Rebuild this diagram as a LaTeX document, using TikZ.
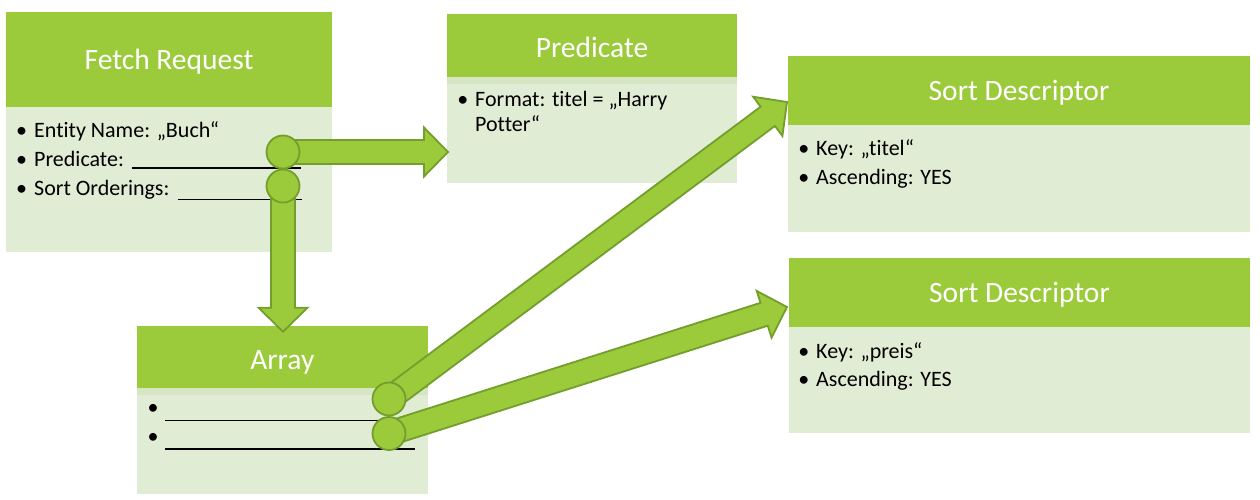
\documentclass[tikz,border=0pt]{standalone}
\usepackage{fontspec}
\setmainfont{Carlito}[Ligatures=NoCommon]
\usetikzlibrary{positioning,calc}

\definecolor{headgreen}{RGB}{155,203,59}
\definecolor{bodygreen}{RGB}{225,236,213}
\definecolor{bandgreen}{RGB}{214,230,196}
\definecolor{edgegreen}{RGB}{115,158,45}

\newcommand\bodyfont{\fontsize{22}{26}\selectfont}
\newcommand\headfont{\fontsize{29.5}{34}\selectfont}
\newcommand\blt{\llap{•\hspace{7pt}}}

% block arrow from #1 to #2
\newcommand\blockarrow[2]{%
  \path ($(#2)!24pt!(#1)$) coordinate (hb);
  \draw[barrow] ($(#1)!12pt!90:(#2)$) -- ($(hb)!12pt!90:(#2)$) -- ($(hb)!24.5pt!90:(#2)$)
    -- (#2) -- ($(hb)!24.5pt!-90:(#2)$) -- ($(hb)!12pt!-90:(#2)$) -- ($(#1)!12pt!-90:(#2)$) -- cycle;}

\tikzset{
  head/.style={fill=headgreen, text=white, font=\headfont, anchor=north west,
    inner sep=0pt, outer sep=0pt, text height=19pt, text depth=0pt},
  body/.style={fill=bodygreen, inner sep=0pt, outer sep=0pt},
  band/.style={path picture={\fill[bandgreen] (path picture bounding box.north west)
    rectangle ([yshift=-7pt]path picture bounding box.north east);}},
  txt/.style={anchor=base west, inner sep=0pt, font=\bodyfont},
  uline/.style={line width=1.3pt},
  barrow/.style={fill=headgreen, draw=edgegreen, line width=1.8pt, line join=miter},
  knob/.style={circle, fill=headgreen, draw=edgegreen, line width=1.8pt,
    minimum size=33pt, inner sep=0pt},
}

\begin{document}
\begin{tikzpicture}[x=1pt,y=-1pt]
    \useasboundingbox (0,0) rectangle (1260,499);

    % fetch request
    \node[head, minimum width=326pt, minimum height=95.3pt] (frhead) at (6,12) {Fetch Request};
    \node[body, below=0pt of frhead, minimum width=326pt, minimum height=145pt] (frbody) {};
    \node[txt] (fent) at (34,137) {\blt Entity Name: „Buch“};
    \node[txt] (fpred) at (34,166) {\blt Predicate:};
    \node[txt] (fsort) at (34,195) {\blt Sort Orderings:};
    \draw[uline] (132,168) -- (301,168);
    \draw[uline] (178,199.5) -- (302,199.5);

    % predicate
    \node[head, minimum width=290pt, minimum height=62.7pt, text height=23.4pt] (prhead) at (447,14) {Predicate};
    \node[body, band, below=0pt of prhead, minimum width=290pt, minimum height=106.6pt] (prbody) {};
    \node[txt] (pform) at (475,106.5) {\blt Format: titel = „Harry};
    \node[txt] (ppot) at (475,131) {Potter“};

    % sort descriptors
    \node[head, minimum width=462pt, minimum height=69pt] (sd1head) at (788,56) {Sort Descriptor};
    \node[body, below=0pt of sd1head, minimum width=462pt, minimum height=106.7pt] (sd1body) {};
    \node[txt] (s1key) at (816,155) {\blt Key: „titel“};
    \node[txt] (s1asc) at (816,184) {\blt Ascending: YES};

    \node[head, minimum width=461pt, minimum height=68.4pt] (sd2head) at (789,258.3) {Sort Descriptor};
    \node[body, below=0pt of sd2head, minimum width=461pt, minimum height=106.6pt] (sd2body) {};
    \node[txt] (s2key) at (816,358) {\blt Key: „preis“};
    \node[txt] (s2asc) at (816,386.5) {\blt Ascending: YES};

    % array
    \node[head, minimum width=290.7pt, minimum height=62pt, text height=25pt] (arhead) at (137,325.7) {Array};
    \node[body, band, below=0pt of arhead, minimum width=290.7pt, minimum height=106.6pt] (arbody) {};
    \node[txt] (ab1) at (165,414) {\blt};
    \node[txt] (ab2) at (165,443) {\blt};
    \draw[uline] (165,420.5) -- (415,420.5);
    \draw[uline] (165,449) -- (415,449);

    % links
    \coordinate (fc1) at (283,152);
    \coordinate (fc2) at (283,186);
    \coordinate (ac1) at (389,399);
    \coordinate (ac2) at (389,433.5);
    \path (prbody.west |- fc1) ++(1,0) coordinate (t1);
    \path (fc2 |- arhead.north) ++(0,6) coordinate (t2);
    \path (sd1head.west) ++(-1,11.5) coordinate (t3);
    \path (sd2head.west) ++(-2,14.5) coordinate (t4);

    \blockarrow{fc1}{t1}
    \blockarrow{fc2}{t2}
    \blockarrow{ac1}{t3}
    \blockarrow{ac2}{t4}

    \node[knob] (k1) at (fc1) {};
    \node[knob] (k2) at (fc2) {};
    \node[knob] (k3) at (ac1) {};
    \node[knob] (k4) at (ac2) {};
\end{tikzpicture}
\end{document}
